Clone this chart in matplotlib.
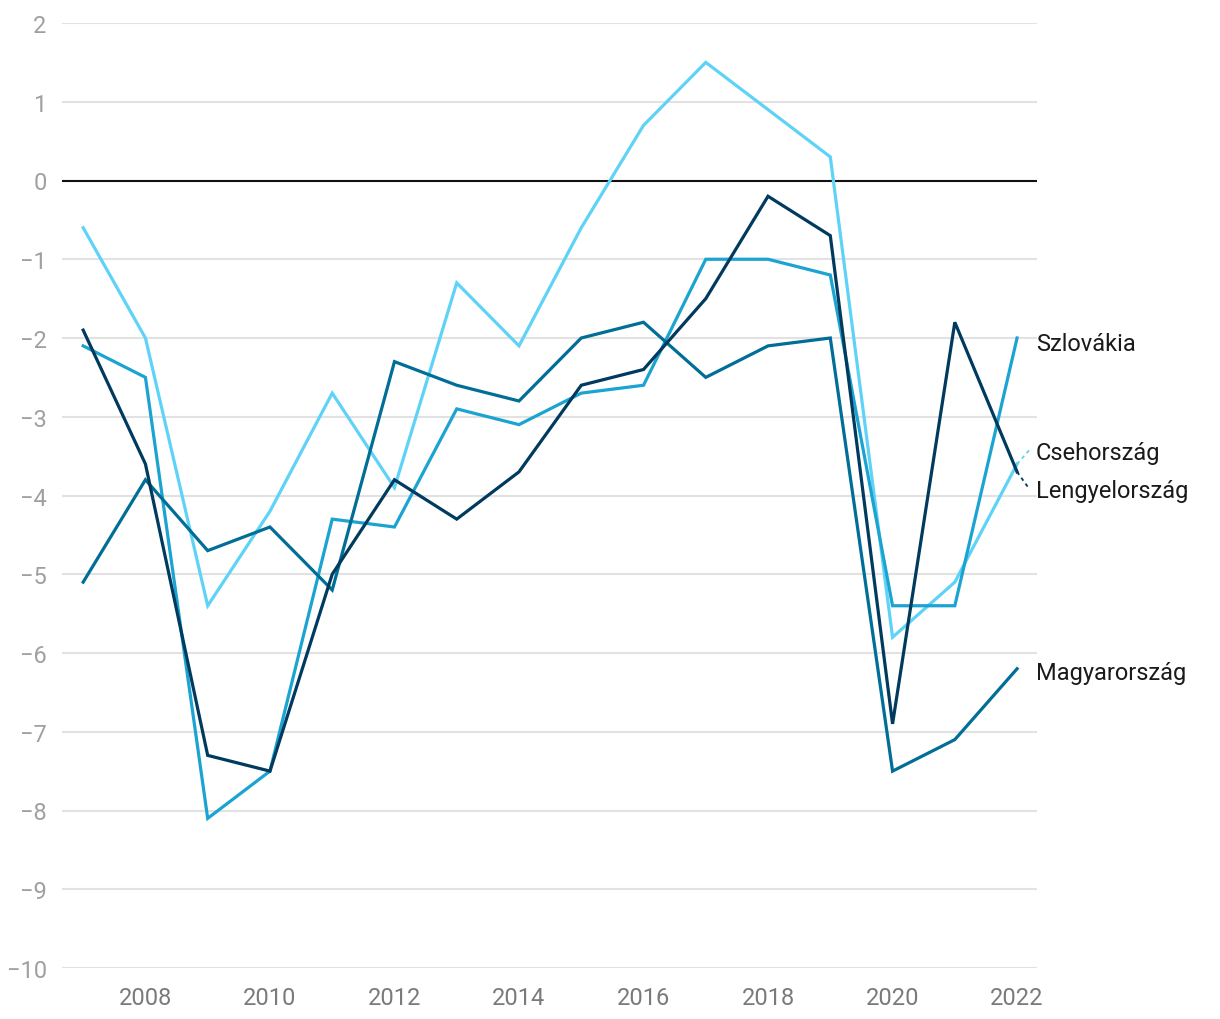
import matplotlib
matplotlib.use('Agg')
import matplotlib.pyplot as plt

plt.rcParams['font.family'] = ['Roboto', 'DejaVu Sans']

years = list(range(2007, 2023))
csehorszag = [-0.6, -2.0, -5.4, -4.2, -2.7, -3.9, -1.3, -2.1, -0.6, 0.7, 1.5, 0.9, 0.3, -5.8, -5.1, -3.6]
szlovakia = [-2.1, -2.5, -8.1, -7.5, -4.3, -4.4, -2.9, -3.1, -2.7, -2.6, -1.0, -1.0, -1.2, -5.4, -5.4, -2.0]
magyarorszag = [-5.1, -3.8, -4.7, -4.4, -5.2, -2.3, -2.6, -2.8, -2.0, -1.8, -2.5, -2.1, -2.0, -7.5, -7.1, -6.2]
lengyelorszag = [-1.9, -3.6, -7.3, -7.5, -5.0, -3.8, -4.3, -3.7, -2.6, -2.4, -1.5, -0.2, -0.7, -6.9, -1.8, -3.7]

names = ['Csehország', 'Szlovákia', 'Magyarország', 'Lengyelország']
series = [csehorszag, szlovakia, magyarorszag, lengyelorszag]
colors = ['#5fd3f7', '#1ba3d1', '#006e96', '#003a5e']
label_y = [-3.46, -2.07, -6.25, -3.94]
# leader line end (value) for labels moved away from the line end
leader_y = [-3.42, None, None, -3.92]

fig = plt.figure(figsize=(12.2, 10.2), dpi=100)
ax = fig.add_axes([62 / 1220, 1 - 969 / 1020, (1037 - 62) / 1220, (969 - 24) / 1020])

for v in range(-10, 3):
    if v == 0:
        continue
    ax.axhline(v, color='#e2e2e2', lw=1.5, zorder=0)
ax.axhline(0, color='#111111', lw=1.5, zorder=1)

for name, vals, c, ly, le in zip(names, series, colors, label_y, leader_y):
    ax.plot(years, vals, color=c, lw=2.3, zorder=3, solid_joinstyle='miter')
    if le is not None:
        ax.plot([years[-1], 2022.2], [vals[-1], le],
                color=c, lw=1.3, ls=(0, (2, 2)), zorder=3, clip_on=False)
    ax.text(2022.3, ly, name, fontsize=17, color='#1a1a1a', va='center', ha='left')

ax.set_xlim(2006.66, 2022.32)
ax.set_ylim(-10, 2)
ax.set_yticks(range(-10, 3))
ax.set_yticklabels([f'{v}'.replace('-', '\u2212') for v in range(-10, 3)])
ax.set_xticks(range(2008, 2023, 2))
for s in ax.spines.values():
    s.set_visible(False)
ax.tick_params(axis='y', length=0, pad=11, labelsize=17, labelcolor='#a0a0a0')
ax.tick_params(axis='x', length=0, pad=13, labelsize=17, labelcolor='#7a7a7a')

fig.savefig('out.png', dpi=100)
